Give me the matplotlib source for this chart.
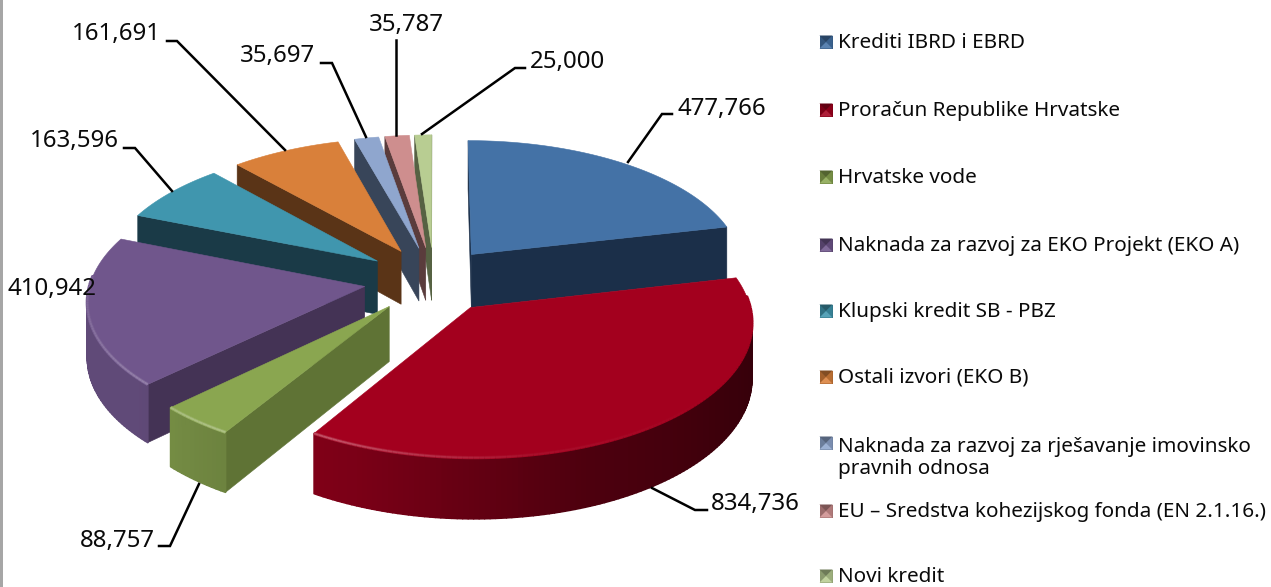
from __future__ import annotations

import matplotlib
matplotlib.use("Agg")
import matplotlib.pyplot as plt
import numpy as np
from matplotlib.collections import LineCollection, PolyCollection
from matplotlib.colors import to_rgb

names = [
    "Krediti IBRD i EBRD",
    "Proračun Republike Hrvatske",
    "Hrvatske vode",
    "Naknada za razvoj za EKO Projekt (EKO A)",
    "Klupski kredit SB - PBZ",
    "Ostali izvori (EKO B)",
    "Naknada za razvoj za rješavanje imovinsko\npravnih odnosa",
    "EU – Sredstva kohezijskog fonda (EN 2.1.16.)",
    "Novi kredit",
]
values = [477766, 834736, 88757, 410942, 163596, 161691, 35697, 35787, 25000]
top_colors = ["#4472A6", "#A3001E", "#8AA650", "#70568C", "#4096AE", "#D9803A", "#8FA6CE", "#CE8E8E", "#B8CD92"]
wall_colors = ["#1B2F49", "#5F0010", "#5F7335", "#443355", "#1A3A47", "#5A3417", "#384559", "#5A3C3C", "#566243"]

# pie projection, all in pixels of the 1271x587 picture
CX, CY = 434, 280
RX, RY = 281, 133
PERSP = 0.1
RADIUS = 0.975
EXPLODE = 0.25
EXPLODE_RIGHT = 0.87  # slices on the right sit a bit closer in than on the left
DEPTH = 54

# leader polylines and label anchors: (points, text x, text y, ha)
label_layout = [
    ([(628, 162), (662, 114), (672, 114)], 677, 109, "left"),
    ([(652, 488), (695, 510), (707, 510)], 711, 504, "left"),
    ([(199, 484), (170, 546), (159, 546)], 155, 541, "right"),
    ([], 8, 289, "left"),
    ([(172, 191), (135, 148), (124, 148)], 119, 141, "right"),
    ([(285, 150), (177, 41), (167, 41)], 161, 34, "right"),
    ([(366, 137), (332, 63), (321, 63)], 315, 56, "right"),
    ([(396, 135), (396, 40)], 406, 25, "center"),
    ([(422, 134), (515, 68), (525, 68)], 530, 62, "left"),
]
legend_y = [43, 111, 178, 246, 312, 378, 458, 512, 577]
swatch_y = [42, 110, 177, 245, 311, 377, 443, 511, 576]
draw_order = [0, 8, 7, 6, 5, 4, 3, 2, 1]


def project(u, v, z=0.0):
    s = 1 / (1 - PERSP * v)
    return CX + RX * u * s, CY + (RY * v + z) * s


def mix(color, other, t):
    a, b = np.array(to_rgb(color)), np.array(to_rgb(other))
    return tuple(a + (b - a) * t)


def shade(color, deg):
    f = np.interp(deg, [77, 120, 160, 200, 230, 300], [0.30, 0.36, 0.48, 0.74, 0.86, 0.86])
    return mix("#000000", color, f)


def faces_viewer(apex, rim, inner):
    # the wall hangs straight down from apex-rim; it shows if the top face lies on the other side
    ex, ey = rim[0] - apex[0], rim[1] - apex[1]
    side_top = ex * (inner[1] - apex[1]) - ey * (inner[0] - apex[0])
    side_down = ex
    return side_top * side_down < 0


def draw_wedge(ax, a0, a1, top, wall):
    mid = np.radians((a0 + a1) / 2)
    eu, ev = EXPLODE * np.sin(mid), -EXPLODE * np.cos(mid)
    if eu > 0:
        eu *= EXPLODE_RIGHT
    deg = np.linspace(a0, a1, max(int(a1 - a0), 6))
    th = np.radians(deg)
    u = eu + RADIUS * np.sin(th)
    v = ev - RADIUS * np.cos(th)
    apex = project(eu, ev)
    inner = project(eu + RADIUS * np.sin(mid), ev - RADIUS * np.cos(mid))

    # radial walls
    for un, vn in [(u[0], v[0]), (u[-1], v[-1])]:
        if not faces_viewer(apex, project(un, vn), inner):
            continue
        quad = [apex, project(un, vn), project(un, vn, DEPTH), project(eu, ev, DEPTH)]
        ax.fill(*zip(*quad), color=wall, lw=0.4, zorder=2)

    # outer wall, strips so the shading can follow the angle; only the part facing us
    quads, cols = [], []
    for i in range(len(deg) - 1):
        d = (deg[i] + deg[i + 1]) / 2
        if d < 85 or d > 275:
            continue
        quads.append([project(u[i], v[i]), project(u[i + 1], v[i + 1]),
                      project(u[i + 1], v[i + 1], DEPTH), project(u[i], v[i], DEPTH)])
        cols.append(shade(top, d))
    if quads:
        ax.add_collection(PolyCollection(quads, facecolors=cols, edgecolors=cols, linewidths=1.2, zorder=2))

    # top face
    pts = [apex] + [project(a, b) for a, b in zip(u, v)]
    ax.fill(*zip(*pts), color=top, lw=0.4, zorder=2)

    # bevel highlight along the front rim
    segs, soft, hard = [], [], []
    for i in range(len(deg) - 1):
        d = (deg[i] + deg[i + 1]) / 2
        if d < 85 or d > 275:
            continue
        segs.append([project(u[i], v[i]), project(u[i + 1], v[i + 1])])
        t = float(np.interp(d, [125, 170, 208, 240, 275], [0, 0.06, 0.32, 0.2, 0.05]))
        hard.append(mix(top, "#FFFFFF", t))
        soft.append(mix(top, "#FFFFFF", t * 0.4))
    if segs:
        ax.add_collection(LineCollection(segs, colors=soft, linewidths=2.4, zorder=2))
        ax.add_collection(LineCollection(segs, colors=hard, linewidths=1.2, zorder=2))


def draw_swatch(ax, x, y, top):
    s = 6.5
    tl, tr, br, bl = (x - s, y - s), (x + s, y - s), (x + s, y + s), (x - s, y + s)
    c = (x, y)
    ax.fill(*zip(tl, tr, br, bl), color=mix("#000000", top, 0.75), lw=0, zorder=3)
    ax.fill(*zip(tl, tr, c), color=mix("#000000", top, 0.6), lw=0, zorder=3)
    ax.fill(*zip(tr, br, c), color=mix("#000000", top, 0.85), lw=0, zorder=3)
    ax.fill(*zip(bl, br, c), color=mix(top, "#FFFFFF", 0.12), lw=0, zorder=3)


plt.rcParams["font.family"] = ["Noto Sans", "DejaVu Sans"]
fig = plt.figure(figsize=(12.71, 5.87), dpi=100)
ax = fig.add_axes([0, 0, 1, 1])
ax.set_xlim(0, 1271)
ax.set_ylim(587, 0)
ax.axis("off")

ax.fill([0, 3, 3, 0], [0, 0, 587, 587], color="#A6A6A6", lw=0)

total = sum(values)
edges = np.concatenate([[0], np.cumsum(values)]) / total * 360
for i in draw_order:
    draw_wedge(ax, edges[i], edges[i + 1], top_colors[i], wall_colors[i])

for val, (pts, tx, ty, ha) in zip(values, label_layout):
    if pts:
        ax.plot(*zip(*pts), color="black", lw=1.8, solid_joinstyle="miter", zorder=4)
    ax.text(tx, ty, f"{val:,}", fontsize=17.3, color="#0A0A0A", ha=ha, va="center", zorder=5)

for name, top, ly, sy in zip(names, top_colors, legend_y, swatch_y):
    draw_swatch(ax, 826, sy, top)
    ax.text(838, ly, name, fontsize=14.9, color="#0A0A0A", ha="left", va="center", linespacing=1.15, zorder=5)

fig.savefig("out.png", dpi=100)
